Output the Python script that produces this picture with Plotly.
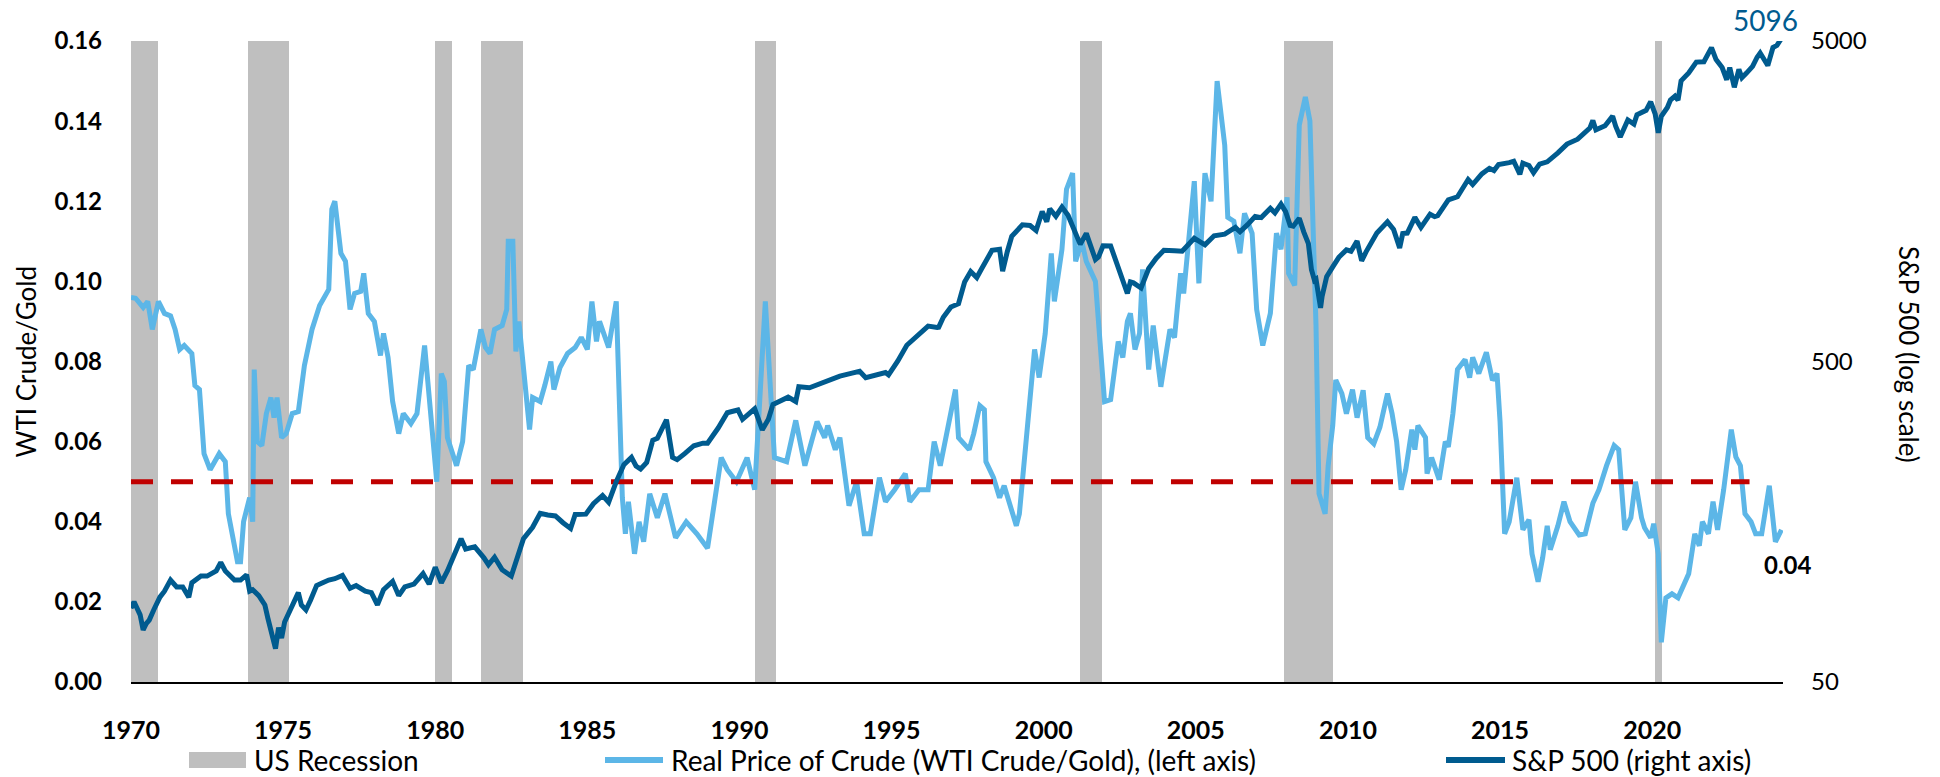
import numpy as np
import plotly.graph_objects as go

# US recessions (NBER), decimal years
rec_start = [1969.9, 1973.85, 1980.0, 1981.5, 1990.5, 2001.2, 2007.9, 2020.1]
rec_end = [1970.9, 1975.2, 1980.55, 1982.9, 1991.2, 2001.9, 2009.5, 2020.32]

# Real price of crude: WTI / gold (left axis)
crude_year = [
    1970.0, 1970.15, 1970.4, 1970.55, 1970.7, 1970.9, 1971.1, 1971.3, 1971.45, 1971.6,
    1971.75, 1972.0, 1972.1, 1972.25, 1972.4, 1972.6, 1972.9, 1973.1, 1973.2, 1973.5,
    1973.6, 1973.7, 1973.8, 1973.9, 1974.0, 1974.05, 1974.15, 1974.3, 1974.45, 1974.6,
    1974.7, 1974.8, 1974.95, 1975.1, 1975.3, 1975.5, 1975.7, 1975.95, 1976.2, 1976.5,
    1976.6, 1976.7, 1976.9, 1977.05, 1977.2, 1977.35, 1977.55, 1977.65, 1977.8, 1978.0,
    1978.2, 1978.3, 1978.45, 1978.6, 1978.8, 1978.95, 1979.2, 1979.4, 1979.65, 1979.8,
    1980.05, 1980.2, 1980.3, 1980.4, 1980.7, 1980.9, 1981.1, 1981.25, 1981.5, 1981.65,
    1981.8, 1981.95, 1982.2, 1982.35, 1982.4, 1982.55, 1982.65, 1982.75, 1983.1, 1983.2,
    1983.45, 1983.6, 1983.8, 1983.9, 1984.1, 1984.35, 1984.6, 1984.8, 1985.0, 1985.15,
    1985.3, 1985.4, 1985.7, 1985.95, 1986.15, 1986.25, 1986.35, 1986.55, 1986.7, 1986.85,
    1987.05, 1987.3, 1987.55, 1987.9, 1988.25, 1988.6, 1988.95, 1989.2, 1989.4, 1989.6,
    1989.9, 1990.25, 1990.5, 1990.85, 1991.15, 1991.55, 1991.85, 1992.15, 1992.55, 1992.8,
    1992.9, 1993.15, 1993.3, 1993.6, 1993.85, 1994.1, 1994.3, 1994.6, 1994.8, 1995.1,
    1995.45, 1995.6, 1995.9, 1996.2, 1996.4, 1996.6, 1996.85, 1997.1, 1997.2, 1997.55,
    1997.7, 1997.9, 1998.05, 1998.1, 1998.35, 1998.55, 1998.7, 1999.1, 1999.2, 1999.5,
    1999.7, 1999.85, 2000.05, 2000.25, 2000.35, 2000.6, 2000.75, 2000.95, 2001.05, 2001.25,
    2001.4, 2001.7, 2001.9, 2002.0, 2002.2, 2002.45, 2002.6, 2002.75, 2002.85, 2003.0,
    2003.15, 2003.25, 2003.45, 2003.6, 2003.85, 2004.0, 2004.15, 2004.3, 2004.5, 2004.6,
    2004.75, 2004.95, 2005.1, 2005.3, 2005.5, 2005.7, 2005.95, 2006.05, 2006.25, 2006.45,
    2006.6, 2006.85, 2007.0, 2007.2, 2007.45, 2007.65, 2007.8, 2008.0, 2008.05, 2008.25,
    2008.4, 2008.6, 2008.75, 2008.95, 2009.05, 2009.25, 2009.35, 2009.5, 2009.6, 2009.8,
    2009.95, 2010.15, 2010.3, 2010.5, 2010.65, 2010.85, 2011.05, 2011.15, 2011.3, 2011.45,
    2011.6, 2011.75, 2011.9, 2012.1, 2012.2, 2012.3, 2012.55, 2012.6, 2012.75, 2013.0,
    2013.2, 2013.3, 2013.45, 2013.6, 2013.85, 2014.0, 2014.1, 2014.3, 2014.55, 2014.75,
    2014.9, 2015.0, 2015.15, 2015.3, 2015.55, 2015.75, 2015.95, 2016.05, 2016.25, 2016.4,
    2016.55, 2016.65, 2016.9, 2017.1, 2017.3, 2017.6, 2017.8, 2018.05, 2018.25, 2018.5,
    2018.75, 2018.9, 2019.1, 2019.3, 2019.45, 2019.65, 2019.75, 2019.95, 2020.05, 2020.2,
    2020.3, 2020.45, 2020.65, 2020.85, 2021.2, 2021.4, 2021.55, 2021.65, 2021.85, 2022.0,
    2022.15, 2022.35, 2022.5, 2022.6, 2022.75, 2022.9, 2023.05, 2023.25, 2023.4, 2023.6,
    2023.85, 2024.05, 2024.25,
]
crude_val = [
    0.096, 0.0958, 0.0935, 0.095, 0.088, 0.095, 0.092, 0.0914, 0.088, 0.083,
    0.084, 0.082, 0.074, 0.073, 0.057, 0.053, 0.057, 0.055, 0.042, 0.030,
    0.030, 0.040, 0.043, 0.046, 0.040, 0.078, 0.060, 0.059, 0.067, 0.071,
    0.066, 0.071, 0.061, 0.062, 0.067, 0.0675, 0.079, 0.088, 0.094, 0.098,
    0.118, 0.120, 0.107, 0.105, 0.093, 0.097, 0.0975, 0.102, 0.092, 0.090,
    0.0815, 0.087, 0.081, 0.070, 0.062, 0.067, 0.0645, 0.067, 0.084, 0.072,
    0.050, 0.077, 0.075, 0.061, 0.054, 0.060, 0.079, 0.078, 0.088, 0.0835,
    0.082, 0.088, 0.089, 0.093, 0.110, 0.110, 0.0825, 0.090, 0.063, 0.071,
    0.070, 0.074, 0.080, 0.073, 0.0785, 0.082, 0.0835, 0.086, 0.083, 0.095,
    0.085, 0.090, 0.0835, 0.095, 0.046, 0.037, 0.045, 0.032, 0.040, 0.035,
    0.047, 0.041, 0.047, 0.036, 0.040, 0.037, 0.0334, 0.046, 0.056, 0.053,
    0.050, 0.056, 0.048, 0.095, 0.056, 0.055, 0.0653, 0.054, 0.065, 0.061,
    0.064, 0.058, 0.061, 0.044, 0.050, 0.037, 0.037, 0.051, 0.045, 0.048,
    0.052, 0.045, 0.048, 0.048, 0.060, 0.054, 0.064, 0.073, 0.061, 0.058,
    0.062, 0.069, 0.068, 0.055, 0.051, 0.046, 0.049, 0.039, 0.042, 0.067,
    0.083, 0.076, 0.087, 0.107, 0.095, 0.108, 0.123, 0.127, 0.105, 0.110,
    0.105, 0.100, 0.080, 0.070, 0.0705, 0.085, 0.081, 0.090, 0.092, 0.083,
    0.087, 0.103, 0.078, 0.089, 0.0737, 0.080, 0.088, 0.086, 0.102, 0.097,
    0.109, 0.125, 0.0995, 0.127, 0.120, 0.150, 0.134, 0.116, 0.115, 0.107,
    0.117, 0.112, 0.093, 0.084, 0.092, 0.112, 0.108, 0.121, 0.102, 0.099,
    0.139, 0.146, 0.140, 0.089, 0.047, 0.042, 0.054, 0.064, 0.0754, 0.072,
    0.067, 0.073, 0.066, 0.0728, 0.061, 0.0595, 0.0636, 0.067, 0.072, 0.067,
    0.060, 0.048, 0.053, 0.063, 0.058, 0.064, 0.061, 0.052, 0.056, 0.0505,
    0.060, 0.0587, 0.067, 0.078, 0.0805, 0.076, 0.081, 0.077, 0.0823, 0.0753,
    0.077, 0.065, 0.037, 0.040, 0.051, 0.038, 0.0405, 0.032, 0.025, 0.031,
    0.039, 0.033, 0.039, 0.045, 0.040, 0.0367, 0.037, 0.0446, 0.048, 0.054,
    0.059, 0.058, 0.038, 0.041, 0.050, 0.041, 0.0385, 0.036, 0.0395, 0.032,
    0.0099, 0.021, 0.022, 0.021, 0.027, 0.037, 0.034, 0.040, 0.037, 0.045,
    0.038, 0.048, 0.056, 0.063, 0.0562, 0.054, 0.042, 0.040, 0.037, 0.037,
    0.049, 0.035, 0.038,
]

# S&P 500 index level (right axis, log scale)
spx_year = [
    1970.0, 1970.1, 1970.3, 1970.4, 1970.5, 1970.6, 1970.75, 1970.95, 1971.1, 1971.3,
    1971.5, 1971.7, 1971.9, 1972.0, 1972.3, 1972.5, 1972.8, 1972.95, 1973.1, 1973.4,
    1973.6, 1973.8, 1973.9, 1974.0, 1974.2, 1974.4, 1974.5, 1974.6, 1974.75, 1974.85,
    1974.95, 1975.05, 1975.2, 1975.4, 1975.5, 1975.6, 1975.75, 1975.9, 1976.1, 1976.3,
    1976.5, 1976.7, 1976.95, 1977.2, 1977.4, 1977.7, 1977.9, 1978.1, 1978.3, 1978.6,
    1978.8, 1979.0, 1979.3, 1979.6, 1979.8, 1980.0, 1980.2, 1980.4, 1980.6, 1980.85,
    1981.0, 1981.3, 1981.6, 1981.75, 1981.95, 1982.2, 1982.5, 1982.65, 1982.9, 1983.2,
    1983.45, 1983.7, 1983.95, 1984.2, 1984.45, 1984.6, 1984.95, 1985.2, 1985.5, 1985.7,
    1985.95, 1986.2, 1986.45, 1986.6, 1986.75, 1986.95, 1987.15, 1987.3, 1987.6, 1987.8,
    1987.95, 1988.2, 1988.5, 1988.8, 1988.95, 1989.3, 1989.6, 1989.75, 1989.95, 1990.1,
    1990.5, 1990.75, 1990.95, 1991.1, 1991.3, 1991.6, 1991.85, 1991.95, 1992.3, 1992.6,
    1992.95, 1993.3, 1993.7, 1993.95, 1994.15, 1994.5, 1994.8, 1994.9, 1995.2, 1995.5,
    1995.95, 1996.2, 1996.5, 1996.55, 1996.7, 1996.95, 1997.2, 1997.4, 1997.6, 1997.8,
    1997.95, 1998.3, 1998.55, 1998.65, 1998.8, 1998.95, 1999.3, 1999.55, 1999.75, 1999.95,
    2000.1, 2000.2, 2000.4, 2000.6, 2000.8, 2000.95, 2001.1, 2001.2, 2001.4, 2001.7,
    2001.8, 2001.95, 2002.2, 2002.45, 2002.55, 2002.75, 2002.85, 2002.95, 2003.2, 2003.45,
    2003.7, 2003.95, 2004.3, 2004.55, 2004.95, 2005.3, 2005.6, 2005.95, 2006.3, 2006.45,
    2006.7, 2006.95, 2007.15, 2007.45, 2007.6, 2007.8, 2007.95, 2008.1, 2008.2, 2008.4,
    2008.55, 2008.7, 2008.8, 2008.9, 2008.95, 2009.1, 2009.15, 2009.3, 2009.5, 2009.7,
    2009.95, 2010.1, 2010.3, 2010.45, 2010.6, 2010.8, 2010.95, 2011.3, 2011.5, 2011.7,
    2011.8, 2011.95, 2012.2, 2012.4, 2012.7, 2012.85, 2012.95, 2013.3, 2013.6, 2013.95,
    2014.1, 2014.4, 2014.65, 2014.8, 2014.95, 2015.3, 2015.45, 2015.65, 2015.75, 2015.95,
    2016.1, 2016.3, 2016.55, 2016.9, 2017.2, 2017.55, 2017.95, 2018.05, 2018.15, 2018.45,
    2018.7, 2018.8, 2018.95, 2019.2, 2019.4, 2019.5, 2019.6, 2019.8, 2019.95, 2020.1,
    2020.2, 2020.3, 2020.5, 2020.6, 2020.75, 2020.85, 2020.95, 2021.2, 2021.45, 2021.7,
    2021.95, 2022.1, 2022.3, 2022.45, 2022.55, 2022.7, 2022.85, 2022.95, 2023.1, 2023.3,
    2023.45, 2023.55, 2023.8, 2023.9, 2023.97, 2024.1, 2024.25,
]
spx_val = [
    85, 89, 81, 72.7, 76, 78, 84, 92, 96, 104,
    99, 99, 92, 102, 107, 107, 111, 118, 111, 104,
    104, 108, 96, 97, 93, 87, 79, 72, 63.5, 73.9,
    68.6, 77, 83, 91, 95, 86.9, 83.9, 90, 100, 102,
    104, 105, 107.5, 98, 100, 96, 95, 87, 97, 103,
    93, 99, 101, 109, 101, 114, 102, 111, 122, 140,
    130, 132, 122, 116, 122.5, 112, 107, 119, 140, 152,
    168, 166, 164.9, 157, 150.7, 166.7, 167, 180, 191, 182,
    211, 238, 251, 236, 231, 242, 284, 288, 329, 251,
    247, 258, 273, 278, 278, 310, 346, 349, 353, 330,
    356, 306, 330, 367, 375, 387, 375, 417, 414, 424,
    436, 450, 460, 466, 445, 454, 462, 454, 501, 562,
    615, 645, 639, 640, 687, 740, 757, 885, 954, 914,
    970, 1111, 1120, 957, 1098, 1229, 1335, 1328, 1282, 1469,
    1366, 1498, 1420, 1517, 1429, 1320, 1240, 1160, 1255, 1040,
    1059, 1148, 1147, 990, 911, 815, 886, 880, 848, 975,
    1050, 1112, 1107, 1104, 1212, 1156, 1234, 1248, 1310, 1270,
    1336, 1418, 1406, 1503, 1455, 1549, 1468, 1330, 1322, 1400,
    1267, 1166, 968, 896, 903, 735, 798, 919, 987, 1057,
    1115, 1104, 1187, 1031, 1101, 1183, 1258, 1364, 1292, 1131,
    1253, 1258, 1408, 1310, 1441, 1416, 1426, 1597, 1633, 1848,
    1783, 1924, 2003, 1972, 2059, 2086, 2107, 1920, 2079, 2044,
    1940, 2065, 2099, 2238, 2384, 2470, 2674, 2824, 2640, 2718,
    2914, 2711, 2507, 2834, 2752, 2942, 2980, 3038, 3231, 2954,
    2585, 2912, 3100, 3271, 3363, 3270, 3756, 3973, 4297, 4307,
    4766, 4374, 4132, 3785, 4130, 3586, 4080, 3840, 3970, 4169,
    4450, 4589, 4194, 4568, 4770, 4846, 5096,
]

threshold = 0.05
threshold_span = [1970.0, 2023.2]
x_ticks = [1970, 1975, 1980, 1985, 1990, 1995, 2000, 2005, 2010, 2015, 2020]
y2_ticks = [50, 500, 5000]

FONT = "Lato"
LIGHT = "#5cb6e7"
DARK = "#005b8f"
GRAY = "#bfbfbf"
RED = "#c00000"

# plot area in pixels
W, H = 1940, 777
L, R, T, B = 131, 157, 41, 95
PW, PH = W - L - R, H - T - B


def px_x(p):
    return (p - L) / PW


def px_y(p):
    return (H - B - p) / PH


fig = go.Figure()

rec_mid = [(a + b) / 2 for a, b in zip(rec_start, rec_end)]
rec_width = [b - a for a, b in zip(rec_start, rec_end)]
fig.add_trace(go.Bar(
    x=rec_mid, y=[0.16] * len(rec_mid), width=rec_width,
    marker=dict(color=GRAY, line=dict(width=0)),
    name="US Recession", hoverinfo="skip",
))
fig.add_trace(go.Scatter(
    x=crude_year, y=crude_val, mode="lines",
    line=dict(color=LIGHT, width=5),
    name="Real Price of Crude (WTI Crude/Gold), (left axis)",
))
fig.add_trace(go.Scatter(
    x=threshold_span, y=[threshold] * 2, mode="lines",
    line=dict(color=RED, width=5, dash="22px,18px"),
    name="threshold", hoverinfo="skip",
))
fig.add_trace(go.Scatter(
    x=spx_year, y=spx_val, mode="lines", yaxis="y2",
    line=dict(color=DARK, width=5),
    name="S&P 500 (right axis)",
))

# end-of-series labels (the S&P value sits just above the axis top, so anchor to paper)
fig.add_annotation(x=spx_year[-1], y=1, xref="x", yref="paper",
                   text=f"{spx_val[-1]}", showarrow=False, xanchor="center",
                   yanchor="middle", xshift=-16, yshift=21,
                   font=dict(family=FONT, size=28, color=DARK))
fig.add_annotation(x=crude_year[-1], y=crude_val[-1], xref="x", yref="y",
                   text=f"{crude_val[-1]:.2f}", showarrow=False,
                   xanchor="center", yanchor="middle", xshift=7, yshift=-35,
                   font=dict(family=FONT, size=24, color="black", weight="bold"))

# axis titles
fig.add_annotation(x=px_x(25), y=0.5, xref="paper", yref="paper",
                   text="WTI Crude/Gold", textangle=-90, showarrow=False,
                   xanchor="center", yanchor="middle",
                   font=dict(family=FONT, size=26, color="black"))
fig.add_annotation(x=px_x(1909), y=px_y(354), xref="paper", yref="paper",
                   text="S&P 500 (log scale)", textangle=90, showarrow=False,
                   xanchor="center", yanchor="middle",
                   font=dict(family=FONT, size=26, color="black"))

# legend drawn by hand: key x-range in pixels, text start
legend_y = 760
legend_items = [
    (fig.data[0].name, "box", GRAY, 189, 246, 252),
    (fig.data[1].name, "line", LIGHT, 605, 663, 669),
    (fig.data[3].name, "line", DARK, 1446, 1505, 1510),
]
for name, kind, color, x0, x1, xt in legend_items:
    if kind == "box":
        fig.add_shape(type="rect", xref="paper", yref="paper",
                      x0=px_x(x0), x1=px_x(x1), y0=px_y(legend_y + 8), y1=px_y(legend_y - 8),
                      fillcolor=color, line=dict(width=0))
    else:
        fig.add_shape(type="line", xref="paper", yref="paper",
                      x0=px_x(x0), x1=px_x(x1), y0=px_y(legend_y), y1=px_y(legend_y),
                      line=dict(color=color, width=6))
    fig.add_annotation(x=px_x(xt), y=px_y(legend_y), xref="paper", yref="paper",
                       text=name, showarrow=False, xanchor="left", yanchor="middle",
                       font=dict(family=FONT, size=28, color="black"))

fig.update_layout(
    width=W, height=H,
    margin=dict(l=L, r=R, t=T, b=B, autoexpand=False),
    paper_bgcolor="white", plot_bgcolor="white",
    font=dict(family=FONT, color="black"),
    bargap=0, showlegend=False,
    xaxis=dict(range=[1970, 2024.3], tickvals=x_ticks, showgrid=False, zeroline=False,
               showline=True, linecolor="black", linewidth=2, ticks="",
               automargin=False, ticklabelstandoff=25,
               tickfont=dict(family=FONT, size=25, weight="bold")),
    yaxis=dict(range=[0, 0.16], dtick=0.02, tickformat=".2f", showgrid=False,
               zeroline=False, ticks="", automargin=False, ticklabelstandoff=28,
               tickfont=dict(family=FONT, size=24, weight="bold")),
    yaxis2=dict(type="log", range=[np.log10(50), np.log10(5000)], tickvals=y2_ticks,
                ticktext=[str(t) for t in y2_ticks], overlaying="y", side="right",
                showgrid=False, zeroline=False, ticks="", automargin=False,
                ticklabelstandoff=27, tickfont=dict(family=FONT, size=24)),
)

# drop the default page margin so the figure sits at the window's top-left corner
fig.write_html("out.html", config={"displayModeBar": False},
               post_script="document.body.style.margin = '0';")
